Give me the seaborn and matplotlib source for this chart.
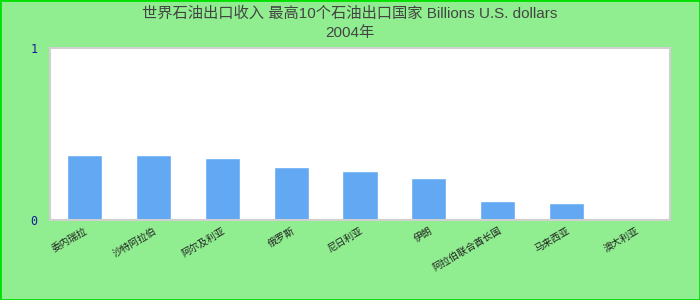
import matplotlib
matplotlib.use("Agg")
import matplotlib.pyplot as plt
import seaborn as sns
import pandas as pd

title_line1 = "世界石油出口收入 最高10个石油出口国家 Billions U.S. dollars"
title_line2 = "2004年"
categories = ["委内瑞拉", "沙特阿拉伯", "阿尔及利亚", "俄罗斯", "尼日利亚",
              "伊朗", "阿拉伯联合酋长国", "马来西亚", "澳大利亚"]
values = [0.38, 0.38, 0.362, 0.31, 0.287, 0.245, 0.11, 0.1, 0.0]
y_ticks = [0, 1]

sns.set_theme(style="white")
plt.rcParams['font.family'] = ['Liberation Sans', 'Noto Sans CJK SC', 'DejaVu Sans']

df = pd.DataFrame({"cat": categories, "val": values})

fig = plt.figure(figsize=(7, 3), dpi=100, facecolor="#90EE90")
ax = fig.add_axes([50/700, 1-220/300, 620/700, 172/300])
ax.set_facecolor("white")
sns.barplot(data=df, x="cat", y="val", color="#62A8F3", saturation=1, width=0.51, ax=ax)
ax.set_xlim(-0.5, len(categories) - 0.5)
ax.set_ylim(0, 1)
ax.set_yticks(y_ticks)
ax.set_yticklabels([str(t) for t in y_ticks], color="#1a1a9a", fontsize=8.5,
                   family=['DejaVu Sans Mono'])
ax.tick_params(axis='y', length=0, pad=9)
ax.tick_params(axis='x', length=0, pad=4)
ax.set_xticks(range(len(categories)))
ax.set_xticklabels(categories, rotation=30, ha="right", rotation_mode="anchor",
                   fontsize=7, color="#222222")
ax.set_xlabel("")
ax.set_ylabel("")
for s in ax.spines.values():
    s.set_color("#d0d0d0")
    s.set_linewidth(1.5)

fig.text(0.5, 1-14/300, title_line1, ha="center", va="center", fontsize=11, color="#444444")
fig.text(0.5, 1-33/300, title_line2, ha="center", va="center", fontsize=11, color="#444444")

border = plt.Rectangle((0, 0), 1, 1, transform=fig.transFigure, fill=False,
                       edgecolor="#00E000", linewidth=2, zorder=10)
fig.patches.append(border)

fig.savefig("out.png", dpi=100, facecolor=fig.get_facecolor())
